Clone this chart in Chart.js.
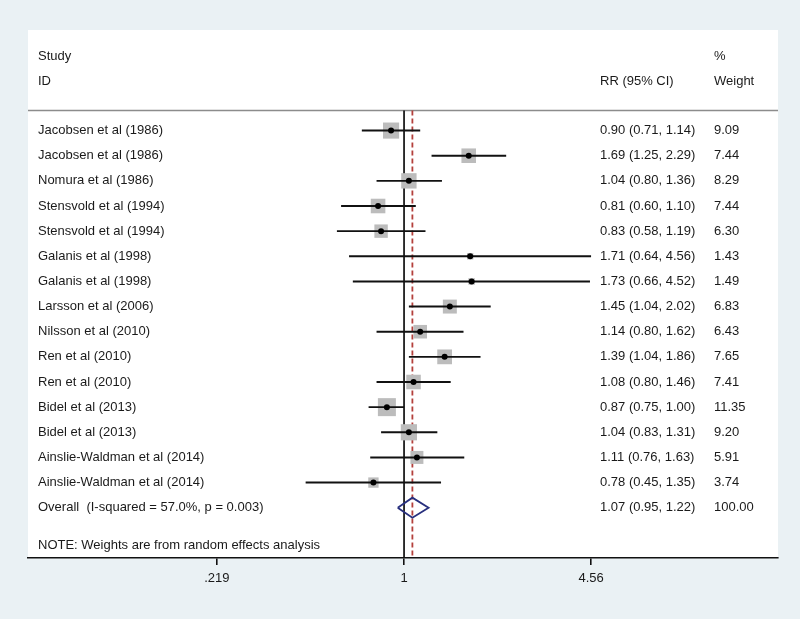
<!DOCTYPE html>
<html>
<head>
<meta charset="utf-8">
<title>Forest plot</title>
<script src="https://cdn.jsdelivr.net/npm/chart.js@4.4.0/dist/chart.umd.min.js"></script>
<style>
  html, body { margin: 0; padding: 0; background: #eaf1f4; }
  canvas { display: block; }
</style>
</head>
<body>
<canvas id="forestChart" width="800" height="619"></canvas>
<script>
// --- data ---
const studies = [
    "Jacobsen et al (1986)", "Jacobsen et al (1986)", "Nomura et al (1986)",
    "Stensvold et al (1994)", "Stensvold et al (1994)", "Galanis et al (1998)",
    "Galanis et al (1998)", "Larsson et al (2006)", "Nilsson et al (2010)",
    "Ren et al (2010)", "Ren et al (2010)", "Bidel et al (2013)",
    "Bidel et al (2013)", "Ainslie-Waldman et al (2014)", "Ainslie-Waldman et al (2014)"
];
const rr = [0.90, 1.69, 1.04, 0.81, 0.83, 1.71, 1.73, 1.45, 1.14, 1.39, 1.08, 0.87, 1.04, 1.11, 0.78];
const lower = [0.71, 1.25, 0.80, 0.60, 0.58, 0.64, 0.66, 1.04, 0.80, 1.04, 0.80, 0.75, 0.83, 0.76, 0.45];
const upper = [1.14, 2.29, 1.36, 1.10, 1.19, 4.56, 4.52, 2.02, 1.62, 1.86, 1.46, 1.00, 1.31, 1.63, 1.35];
const weights = [9.09, 7.44, 8.29, 7.44, 6.30, 1.43, 1.49, 6.83, 6.43, 7.65, 7.41, 11.35, 9.20, 5.91, 3.74];

const overallRR = 1.07;
const overallLower = 0.95;
const overallUpper = 1.22;
const overallWeight = 100.00;
const overallLabel = "Overall  (I-squared = 57.0%, p = 0.003)";
const noteText = "NOTE: Weights are from random effects analysis";

const xTicks = [0.219, 1, 4.56];
const xTickLabels = [".219", "1", "4.56"];

// --- layout / style ---
const FONT = "'Liberation Sans', Arial, sans-serif";
const TEXT_COLOR = "#1a1a1a";
const X_MIN = 0.04731;   // log scale stretched so the plot box spans the whole white panel
const X_MAX = 20.78;
const HEADER_Y = -0.8;
const BOX_MAX = 18;      // side in px of the largest weight box
const maxW = Math.max(...weights);
const nRows = studies.length;

const rowIdx = studies.map((_, i) => i);

// one line dataset per confidence interval
const ciSets = rowIdx.map(i => ({
    type: "scatter",
    data: [{ x: lower[i], y: i }, { x: upper[i], y: i }],
    showLine: true,
    borderColor: "#111",
    borderWidth: 1.9,
    pointRadius: 0,
    order: 1
}));

const datasets = [
    {
        // study point estimates
        data: rowIdx.map(i => ({ x: rr[i], y: i })),
        pointStyle: "circle",
        pointRadius: 3,
        pointBackgroundColor: "#000",
        pointBorderWidth: 0,
        order: 0
    },
    ...ciSets,
    {
        // weight boxes
        data: rowIdx.map(i => ({ x: rr[i], y: i })),
        pointStyle: "rect",
        pointRadius: ctx => BOX_MAX * Math.sqrt(weights[ctx.dataIndex] / maxW) / Math.SQRT2,
        pointBackgroundColor: "#bcbcbc",
        pointBorderWidth: 0,
        order: 2
    },
    {
        // overall diamond
        data: [
            { x: overallLower, y: nRows },
            { x: overallRR, y: nRows - 0.4 },
            { x: overallUpper, y: nRows },
            { x: overallRR, y: nRows + 0.4 },
            { x: overallLower, y: nRows }
        ],
        showLine: true,
        borderColor: "#28307e",
        borderWidth: 1.8,
        pointRadius: 0,
        order: 1
    },
    {
        // line of no effect
        data: [{ x: 1, y: HEADER_Y }, { x: 1, y: 17 }],
        showLine: true,
        borderColor: "#111",
        borderWidth: 1.7,
        pointRadius: 0,
        order: 3
    },
    {
        // overall estimate
        data: [{ x: overallRR, y: HEADER_Y }, { x: overallRR, y: 17 }],
        showLine: true,
        borderColor: "#b4403c",
        borderWidth: 1.8,
        borderDash: [5, 3],
        pointRadius: 0,
        order: 3
    }
];

const panelPlugin = {
    id: "panel",
    beforeDraw(chart) {
        const { ctx, chartArea: a, width, height } = chart;
        ctx.save();
        ctx.fillStyle = "#eaf1f4";
        ctx.fillRect(0, 0, width, height);
        ctx.fillStyle = "#ffffff";
        ctx.fillRect(a.left, a.top, a.right - a.left, a.bottom - a.top);
        // header rule
        const yH = chart.scales.y.getPixelForValue(HEADER_Y);
        ctx.strokeStyle = "#8c8c8c";
        ctx.lineWidth = 1.5;
        ctx.beginPath();
        ctx.moveTo(a.left, yH);
        ctx.lineTo(a.right, yH);
        ctx.stroke();
        ctx.restore();
    },
    afterDraw(chart) {
        const { ctx } = chart;
        const y = chart.scales.y;
        const colLabel = 38, colCI = 600, colW = 714;
        const ci = (e, l, u) => `${e.toFixed(2)} (${l.toFixed(2)}, ${u.toFixed(2)})`;
        ctx.save();
        ctx.fillStyle = TEXT_COLOR;
        ctx.font = `13px ${FONT}`;
        ctx.textBaseline = "middle";
        ctx.textAlign = "left";

        ctx.fillText("Study", colLabel, y.getPixelForValue(-2.95));
        ctx.fillText("ID", colLabel, y.getPixelForValue(-1.95));
        ctx.fillText("RR (95% CI)", colCI, y.getPixelForValue(-1.95));
        ctx.fillText("%", colW, y.getPixelForValue(-2.95));
        ctx.fillText("Weight", colW, y.getPixelForValue(-1.95));

        rowIdx.forEach(i => {
            const py = y.getPixelForValue(i);
            ctx.fillText(studies[i], colLabel, py);
            ctx.fillText(ci(rr[i], lower[i], upper[i]), colCI, py);
            ctx.fillText(weights[i].toFixed(2), colW, py);
        });

        const po = y.getPixelForValue(nRows);
        ctx.fillText(overallLabel, colLabel, po);
        ctx.fillText(ci(overallRR, overallLower, overallUpper), colCI, po);
        ctx.fillText(overallWeight.toFixed(2), colW, po);

        ctx.fillText(noteText, colLabel, y.getPixelForValue(nRows + 1.5));
        ctx.restore();
    }
};

new Chart(document.getElementById("forestChart"), {
    type: "scatter",
    data: { datasets },
    options: {
        responsive: false,
        animation: false,
        events: [],
        layout: { padding: { top: 30, right: 22, bottom: 0, left: 28 } },
        plugins: { legend: { display: false }, tooltip: { enabled: false } },
        scales: {
            x: {
                type: "logarithmic",
                min: X_MIN,
                max: X_MAX,
                afterBuildTicks: s => { s.ticks = xTicks.map(v => ({ value: v })); },
                afterFit: s => { s.height = 61; },
                ticks: {
                    autoSkip: false,
                    maxRotation: 0,
                    padding: 6,
                    color: TEXT_COLOR,
                    font: { family: FONT, size: 13 },
                    callback: (v, i) => xTickLabels[i]
                },
                grid: {
                    drawOnChartArea: false,
                    drawTicks: true,
                    tickLength: 7,
                    color: "#111",
                    lineWidth: 1.6
                },
                border: { display: true, color: "#111", width: 1.6 }
            },
            y: {
                type: "linear",
                reverse: true,
                min: -4,
                max: 17,
                display: false
            }
        }
    },
    plugins: [panelPlugin]
});
</script>
</body>
</html>
